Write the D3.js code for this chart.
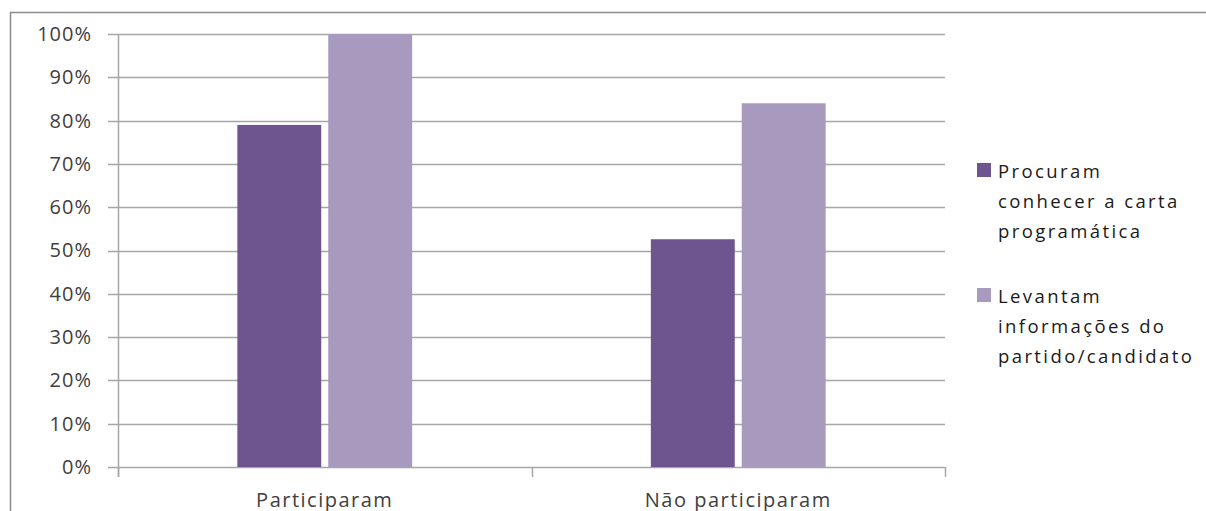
<!DOCTYPE html>
<html>
<head>
<meta charset="utf-8">
<script src="https://cdn.jsdelivr.net/npm/d3@7"></script>
<style>
  body { margin: 0; background: #fff; }
  svg { display: block; font-family: "Open Sans", "DejaVu Sans", sans-serif; }
</style>
</head>
<body>
<svg></svg>
<script>
const width = 1206;
const height = 511;

// dados
const categorias = ["Participaram", "Não participaram"];
const series = ["Procuram conhecer a carta programática", "Levantam informações do partido/candidato"];
const procuram = [0.79, 0.526];
const levantam = [1.0, 0.84];
const yTicks = [0, 0.1, 0.2, 0.3, 0.4, 0.5, 0.6, 0.7, 0.8, 0.9, 1.0];
const legendLines = [
  ["Procuram", "conhecer a carta", "programática"],
  ["Levantam", "informações do", "partido/candidato"]
];
const cores = ["#6f558f", "#a899bf"];

const margin = { top: 34, right: 261, bottom: 44, left: 118 };

const svg = d3.select("svg").attr("width", width).attr("height", height);

// moldura do gráfico (só esquerda e topo aparecem)
svg.append("path")
  .attr("d", `M10.5,${height} V12.5 H${width}`)
  .attr("fill", "none")
  .attr("stroke", "#8c8c8c")
  .attr("stroke-width", 1.5);

const x = d3.scaleBand()
  .domain(categorias)
  .range([margin.left, width - margin.right]);

// duas barras por categoria: ~84px de largura, ~7px de espaço
const x1 = d3.scaleBand()
  .domain([0, 1])
  .range([0, x.bandwidth()])
  .paddingInner(0.077)
  .paddingOuter(1.313);

const y = d3.scaleLinear()
  .domain([0, 1])
  .range([height - margin.bottom, margin.top]);

// linhas de grade
svg.append("g")
  .selectAll("line")
  .data(yTicks)
  .enter()
  .append("line")
  .attr("x1", margin.left - 10)
  .attr("x2", width - margin.right)
  .attr("y1", d => Math.round(y(d)) + 0.5)
  .attr("y2", d => Math.round(y(d)) + 0.5)
  .attr("stroke", "#a6a6a6")
  .attr("stroke-width", 1.5);

// barras
const dados = categorias.map((c, i) => ({ cat: c, vals: [procuram[i], levantam[i]] }));
svg.append("g")
  .selectAll("g")
  .data(dados)
  .enter()
  .append("g")
  .attr("transform", d => `translate(${x(d.cat)},0)`)
  .selectAll("rect")
  .data(d => d.vals.map((v, j) => ({ v, j })))
  .enter()
  .append("rect")
  .attr("x", d => x1(d.j))
  .attr("width", x1.bandwidth())
  .attr("y", d => y(d.v))
  .attr("height", d => y(0) - y(d.v))
  .attr("fill", d => cores[d.j]);

// eixo Y
const yAxis = svg.append("g")
  .attr("transform", `translate(${margin.left},0)`)
  .call(d3.axisLeft(y).tickValues(yTicks).tickFormat(d3.format(".0%")).tickSize(0).tickPadding(26));
yAxis.select(".domain")
  .attr("stroke", "#a6a6a6")
  .attr("stroke-width", 1.5)
  .attr("d", `M0.5,${y(1)}V${y(0) + 10}`);
yAxis.selectAll(".tick text")
  .style("font-size", "20px")
  .style("letter-spacing", "1px")
  .attr("fill", "#404040")
  .attr("font-family", "Open Sans, sans-serif");

// eixo X
const xAxis = svg.append("g")
  .attr("transform", `translate(0,${Math.round(y(0)) + 0.5})`)
  .call(d3.axisBottom(x).tickSize(0).tickPadding(25));
xAxis.select(".domain").remove();
xAxis.selectAll(".tick text")
  .style("font-size", "20px")
  .style("letter-spacing", "1.5px")
  .attr("fill", "#404040")
  .attr("font-family", "Open Sans, sans-serif");

// marcas de separação entre categorias
const bordas = [margin.left, ...categorias.map(c => x(c) + x.bandwidth())];
svg.append("g")
  .selectAll("line")
  .data(bordas)
  .enter()
  .append("line")
  .attr("x1", d => Math.round(d) + 0.5)
  .attr("x2", d => Math.round(d) + 0.5)
  .attr("y1", y(0))
  .attr("y2", y(0) + 10)
  .attr("stroke", "#a6a6a6")
  .attr("stroke-width", 1.5);

// legenda
const legend = svg.append("g").attr("transform", "translate(977,163)");
const item = legend.selectAll("g")
  .data(series)
  .enter()
  .append("g")
  .attr("transform", (d, i) => `translate(0,${i * 125})`);
item.append("rect")
  .attr("width", 14)
  .attr("height", 14)
  .attr("fill", (d, i) => cores[i]);
item.append("text")
  .attr("x", 21)
  .attr("y", 15)
  .style("font-size", "18.5px")
  .style("letter-spacing", "2.4px")
  .attr("fill", "#1a1a1a")
  .selectAll("tspan")
  .data((d, i) => legendLines[i])
  .enter()
  .append("tspan")
  .attr("x", 21)
  .attr("dy", (d, k) => (k === 0 ? 0 : 30))
  .text(d => d);
</script>
</body>
</html>
